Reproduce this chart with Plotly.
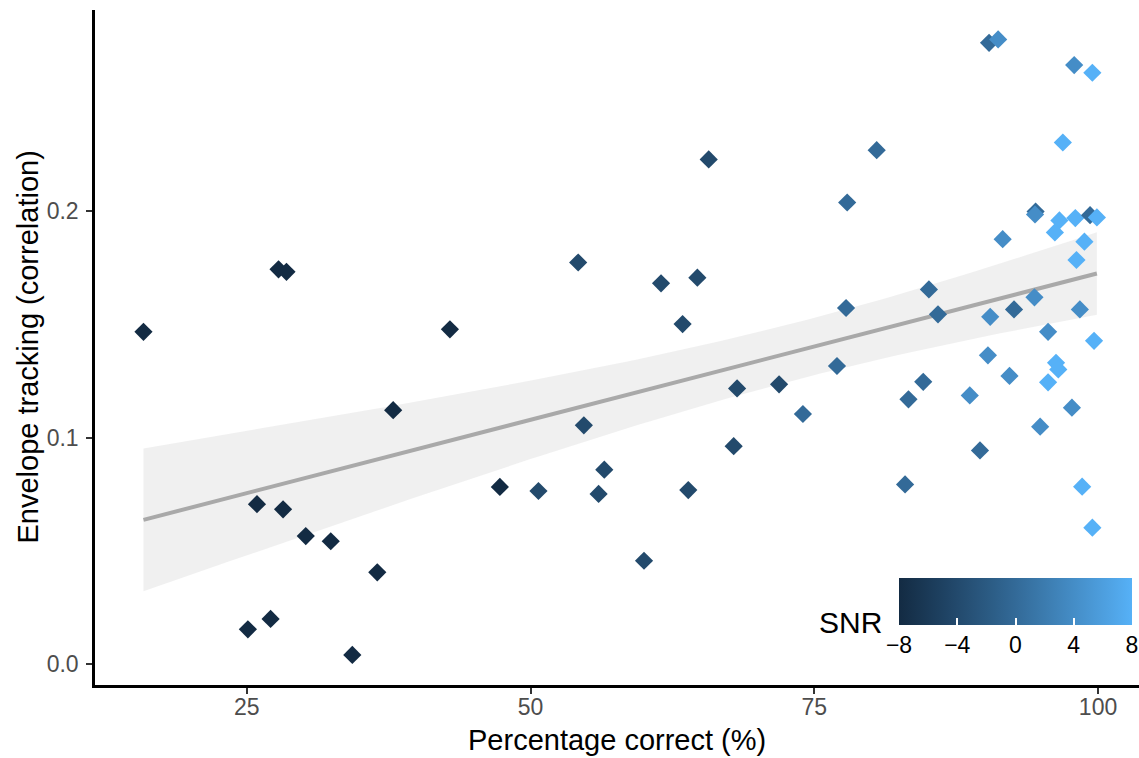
import numpy as np
import plotly.graph_objects as go

# ---------------- data ----------------
pct_correct = [
    15.9, 27.8, 28.5, 42.9, 37.9, 25.9, 28.2, 30.2, 32.4, 36.5, 25.1, 27.1, 34.3,
    65.7, 77.9, 54.2, 61.5, 64.7, 63.4, 77.8, 77.0, 68.2, 71.9, 74.0, 54.7, 67.9,
    56.5, 47.3, 50.7, 56.0, 63.9, 60.0, 80.5,
    90.4, 91.2, 97.9, 99.5, 96.9, 94.5, 94.45, 96.6, 98.0, 99.3, 99.9,
    96.2, 91.6, 98.8, 98.1, 85.1, 85.9, 94.4, 92.6, 90.5, 98.4,
    95.6, 99.65, 90.3, 96.3, 96.5, 92.2, 95.6, 84.6, 83.3, 88.7, 97.7, 94.9,
    89.6, 83.0, 98.6, 99.5,
]
env_tracking = [
    0.1467, 0.1743, 0.1732, 0.1478, 0.1121, 0.0706, 0.0683, 0.0565, 0.0542, 0.0405, 0.0153, 0.0199, 0.0040,
    0.2228, 0.2038, 0.1773, 0.1681, 0.1706, 0.1501, 0.1572, 0.1316, 0.1217, 0.1235, 0.1104, 0.1054, 0.0962,
    0.0858, 0.0782, 0.0764, 0.0751, 0.0768, 0.0456, 0.2269,
    0.2743, 0.2758, 0.2645, 0.2611, 0.2303, 0.1998, 0.1985, 0.1959, 0.1969, 0.1982, 0.1972,
    0.1906, 0.1876, 0.1865, 0.1784, 0.1654, 0.1544, 0.1619, 0.1566, 0.1533, 0.1566,
    0.1467, 0.1427, 0.1363, 0.1330, 0.1301, 0.1272, 0.1244, 0.1246, 0.1169, 0.1186, 0.1132, 0.1048,
    0.0943, 0.0793, 0.0783, 0.0602,
]
snr = [
    -8, -8, -8, -8, -8, -8, -8, -8, -8, -8, -8, -8, -8,
    -4, 0, -4, -4, -4, -4, 0, 0, -4, -4, 0, -4, -4,
    -4, -8, -4, -4, -4, -4, 0,
    0, 4, 4, 8, 8, 0, 4, 8, 8, 0, 8,
    8, 4, 8, 8, 0, 0, 4, 0, 4, 4,
    4, 8, 4, 8, 8, 4, 8, 0, 0, 4, 4, 4,
    0, 0, 8, 8,
]
snr_ticks = [-8, -4, 0, 4, 8]
snr_ticktext = ["\u22128", "\u22124", "0", "4", "8"]
x_ticks = [25, 50, 75, 100]
y_ticks = [0.0, 0.1, 0.2]
y_ticktext = ["0.0", "0.1", "0.2"]

# ---------------- ggplot-like Lab gradient colourscale ----------------
def hex2rgb(h):
    h = h.lstrip("#")
    return np.array([int(h[i:i + 2], 16) / 255 for i in (0, 2, 4)])

def srgb2lin(c):
    return np.where(c <= 0.04045, c / 12.92, ((c + 0.055) / 1.055) ** 2.4)

def lin2srgb(c):
    return np.where(c <= 0.0031308, 12.92 * c, 1.055 * np.power(np.clip(c, 0, None), 1 / 2.4) - 0.055)

M = np.array([[0.4124, 0.3576, 0.1805], [0.2126, 0.7152, 0.0722], [0.0193, 0.1192, 0.9505]])
WP = np.array([0.95047, 1.0, 1.08883])

def rgb2lab(rgb):
    xyz = M @ srgb2lin(rgb) / WP
    f = np.where(xyz > 216 / 24389, np.cbrt(xyz), (24389 / 27 * xyz + 16) / 116)
    return np.array([116 * f[1] - 16, 500 * (f[0] - f[1]), 200 * (f[1] - f[2])])

def lab2rgb(lab):
    fy = (lab[0] + 16) / 116
    fx = fy + lab[1] / 500
    fz = fy - lab[2] / 200
    f = np.array([fx, fy, fz])
    xyz = np.where(f ** 3 > 216 / 24389, f ** 3, (116 * f - 16) / (24389 / 27)) * WP
    rgb = lin2srgb(np.linalg.solve(M, xyz))
    return np.clip(rgb, 0, 1)

lo, hi = rgb2lab(hex2rgb("#132B43")), rgb2lab(hex2rgb("#56B1F7"))
colorscale = []
for t in np.linspace(0, 1, 11):
    r, g, b = (lab2rgb(lo + (hi - lo) * t) * 255).round().astype(int)
    colorscale.append([float(t), f"rgb({r},{g},{b})"])

# ---------------- linear fit with 95% CI ----------------
x = np.array(pct_correct)
y = np.array(env_tracking)
n = len(x)
b1, b0 = np.polyfit(x, y, 1)
resid = y - (b0 + b1 * x)
s = np.sqrt(np.sum(resid ** 2) / (n - 2))
xg = np.linspace(x.min(), x.max(), 80)
yg = b0 + b1 * xg
se = s * np.sqrt(1 / n + (xg - x.mean()) ** 2 / np.sum((x - x.mean()) ** 2))
tcrit = 1.996
upper = yg + tcrit * se
lower = yg - tcrit * se

FONT = "Liberation Sans, Arial, sans-serif"
W, H = 1139, 758
ML, MR, MT, MB = 95, 0, 10, 73
PW, PH = W - ML - MR, H - MT - MB

fig = go.Figure()
fig.add_trace(go.Scatter(
    x=np.concatenate([xg, xg[::-1]]), y=np.concatenate([upper, lower[::-1]]),
    fill="toself", fillcolor="rgba(153,153,153,0.15)", line=dict(width=0),
    hoverinfo="skip", showlegend=False))
fig.add_trace(go.Scatter(x=xg, y=yg, mode="lines", line=dict(color="#A9A9A9", width=4),
                         showlegend=False))
fig.add_trace(go.Scatter(
    x=x, y=y, mode="markers", showlegend=False,
    marker=dict(symbol="diamond", size=14, color=snr, colorscale=colorscale, cmin=-8, cmax=8,
                line=dict(width=0),
                colorbar=dict(
                    orientation="h", xref="paper", yref="paper",
                    x=(899 - ML) / PW, xanchor="left", y=(MT + PH - 578) / PH, yanchor="top",
                    lenmode="pixels", len=233, thickness=47, xpad=0, ypad=0,
                    outlinewidth=0, ticks="inside", ticklen=7, tickwidth=1.5, tickcolor="white",
                    tickvals=snr_ticks, ticktext=snr_ticktext, ticklabeloverflow="allow",
                    tickfont=dict(family=FONT, size=23, color="black"),
                    title=dict(text=""),
                ))))

fig.add_annotation(xref="paper", yref="paper", x=(884 - ML) / PW, y=(MT + PH - 622) / PH,
                   text="SNR", showarrow=False, xanchor="right", yanchor="middle",
                   font=dict(family=FONT, size=30, color="black"))
fig.add_annotation(xref="paper", yref="paper", x=0.5, y=(MT + PH - 740) / PH,
                   text="Percentage correct (%)", showarrow=False, xanchor="center",
                   yanchor="middle", font=dict(family=FONT, size=29, color="black"))
fig.add_annotation(xref="paper", yref="paper", x=(27 - ML) / PW, y=0.5, textangle=-90,
                   text="Envelope tracking (correlation)", showarrow=False, xanchor="center",
                   yanchor="middle", font=dict(family=FONT, size=29, color="black"))

fig.update_layout(
    width=W, height=H, margin=dict(l=ML, r=MR, t=MT, b=MB, autoexpand=False),
    plot_bgcolor="white", paper_bgcolor="white",
    font=dict(family=FONT),
    xaxis=dict(range=[11.63, 103.61], tickvals=x_ticks, showgrid=False, zeroline=False,
               showline=True, linecolor="black", linewidth=2.5, ticks="outside", ticklen=6,
               tickwidth=2, tickcolor="#333333", ticklabelstandoff=-6,
               tickfont=dict(family=FONT, size=23, color="#4D4D4D")),
    yaxis=dict(range=[-0.00927, 0.2888], tickvals=y_ticks, ticktext=y_ticktext, showgrid=False,
               zeroline=False, showline=True, linecolor="black", linewidth=2.5, ticks="outside",
               ticklen=6, tickwidth=2, tickcolor="#333333", ticklabelstandoff=3,
               tickfont=dict(family=FONT, size=23, color="#4D4D4D")),
)

fig.write_html("out.html")
